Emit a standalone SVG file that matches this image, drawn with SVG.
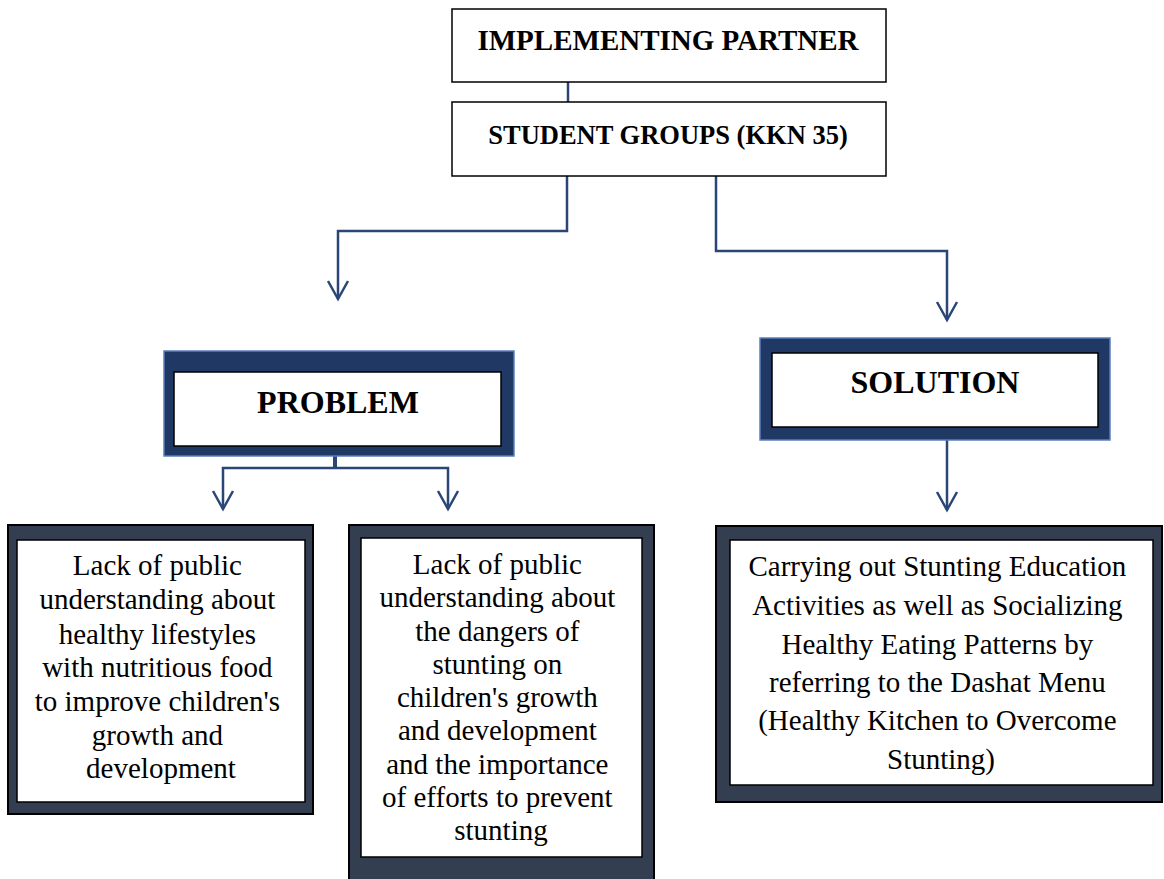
<svg xmlns="http://www.w3.org/2000/svg" width="1164" height="879" viewBox="0 0 1164 879">
<style>
.box{fill:#fff;stroke:#000;stroke-width:1.5}
.hdr{fill:#203864;stroke:#5B7EBD;stroke-width:1.5}
.dark{fill:#333F50;stroke:#000;stroke-width:2}
.inner{fill:#fff;stroke:#000;stroke-width:1.5}
.conn{fill:none;stroke:#2A4677;stroke-width:2.5}
.head{fill:none;stroke:#2A4677;stroke-width:2.5}
.tb{font-family:"Liberation Serif","Times New Roman",serif;font-weight:bold;fill:#000;text-anchor:middle}
.tr{font-family:"Liberation Serif","Times New Roman",serif;font-size:29px;fill:#000;text-anchor:middle}
</style>
<g id="connectors">
<line x1="568" y1="82" x2="568" y2="102" class="conn"/>
<path d="M567,176 V231 H338 V299" class="conn"/>
<path d="M716,176 V251 H947 V320" class="conn"/>
<line x1="335" y1="456" x2="335" y2="468" class="conn" style="stroke-width:4"/>
<path d="M223,509 V468 H448 V509" class="conn"/>
<line x1="947" y1="440" x2="947" y2="510" class="conn"/>
<path d="M328,281 L338,299 L348,281" class="head"/>
<path d="M937,302 L947,320 L957,302" class="head"/>
<path d="M213,491 L223,509 L233,491" class="head"/>
<path d="M438,491 L448,509 L458,491" class="head"/>
<path d="M937,492 L947,510 L957,492" class="head"/>
</g>
<g id="implementing-partner">
<rect x="452" y="9" width="434" height="73" class="box"/>
<text x="668" y="50" class="tb" font-size="29">IMPLEMENTING PARTNER</text>
</g>
<g id="student-groups">
<rect x="452" y="102" width="434" height="74" class="box"/>
<text x="668" y="144" class="tb" font-size="26.5">STUDENT GROUPS (KKN 35)</text>
</g>
<g id="problem">
<rect x="164" y="351" width="350" height="105" class="hdr"/>
<rect x="174" y="372" width="327" height="74" class="inner"/>
<text x="338" y="413" class="tb" font-size="32">PROBLEM</text>
</g>
<g id="solution">
<rect x="760" y="338" width="350" height="102" class="hdr"/>
<rect x="772" y="353" width="326" height="74" class="inner"/>
<text x="935" y="393" class="tb" font-size="32">SOLUTION</text>
</g>
<g id="problem-1">
<rect x="8" y="525" width="305" height="289" class="dark"/>
<rect x="17" y="540" width="288" height="262" class="inner"/>
<text class="tr">
<tspan x="161" y="575">Lack of public</tspan>
<tspan x="161" y="609">understanding about</tspan>
<tspan x="161" y="644">healthy lifestyles</tspan>
<tspan x="161" y="677">with nutritious food</tspan>
<tspan x="161" y="711">to improve children's</tspan>
<tspan x="161" y="745">growth and</tspan>
<tspan x="161" y="778">development</tspan>
</text>
</g>
<g id="problem-2">
<rect x="349" y="525" width="305" height="360" class="dark"/>
<rect x="361" y="538" width="281" height="319" class="inner"/>
<text class="tr">
<tspan x="501" y="574">Lack of public</tspan>
<tspan x="501" y="607">understanding about</tspan>
<tspan x="501" y="641">the dangers of</tspan>
<tspan x="501" y="674">stunting on</tspan>
<tspan x="501" y="707">children's growth</tspan>
<tspan x="501" y="740">and development</tspan>
<tspan x="501" y="774">and the importance</tspan>
<tspan x="501" y="807">of efforts to prevent</tspan>
<tspan x="501" y="840">stunting</tspan>
</text>
</g>
<g id="solution-1">
<rect x="716" y="526" width="446" height="276" class="dark"/>
<rect x="730" y="540" width="423" height="245" class="inner"/>
<text class="tr">
<tspan x="941" y="576">Carrying out Stunting Education</tspan>
<tspan x="941" y="615">Activities as well as Socializing</tspan>
<tspan x="941" y="654">Healthy Eating Patterns by</tspan>
<tspan x="941" y="692">referring to the Dashat Menu</tspan>
<tspan x="941" y="730">(Healthy Kitchen to Overcome</tspan>
<tspan x="941" y="769">Stunting)</tspan>
</text>
</g>
</svg>
